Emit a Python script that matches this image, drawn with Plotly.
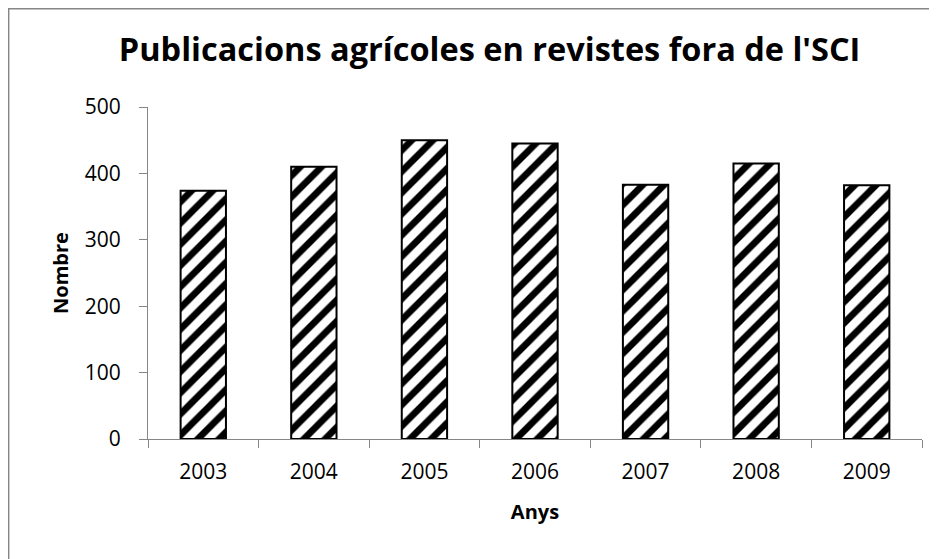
import plotly.graph_objects as go

# dades
anys = ["2003", "2004", "2005", "2006", "2007", "2008", "2009"]
publicacions = [374, 410, 450, 445, 383, 415, 382]

fig = go.Figure()
fig.add_trace(go.Bar(
    x=anys, y=publicacions,
    marker=dict(
        color="white",
        line=dict(color="black", width=2),
        pattern=dict(shape="/", fgcolor="black", bgcolor="white", fgopacity=1,
                     size=15, solidity=0.45),
    ),
))

fig.update_layout(
    width=937, height=559,
    margin=dict(l=140, r=23, t=99, b=128),
    paper_bgcolor="white", plot_bgcolor="white",
    font=dict(family="Open Sans, Liberation Sans, sans-serif", size=21, color="black"),
    title=dict(text="<b>Publicacions agrícoles en revistes fora de l'SCI</b>",
               x=0.514, xanchor="center", y=0.925, yanchor="middle",
               font=dict(size=32.5)),
    bargap=0.59,
    showlegend=False,
)
fig.update_xaxes(
    showline=True, linecolor="#868686", linewidth=1,
    ticks="outside", tickson="boundaries", ticklen=8, tickcolor="#868686",
    ticklabelstandoff=14,
    title=dict(text="<b>Anys</b>", font=dict(size=20), standoff=20),
)
fig.update_yaxes(
    range=[0, 500], dtick=100, showgrid=False, zeroline=False,
    showline=True, linecolor="#868686", linewidth=1,
    ticks="outside", ticklen=8, tickcolor="#868686",
    ticklabelstandoff=14,
    title=dict(text="<b>Nombre</b>", font=dict(size=20), standoff=10),
)
# marc exterior del gràfic
fig.add_shape(type="rect", xref="paper", yref="paper",
              x0=-0.18, x1=1.1, y0=-0.5, y1=1.296,
              line=dict(color="#868686", width=1.5))

fig.write_html("out.html")
